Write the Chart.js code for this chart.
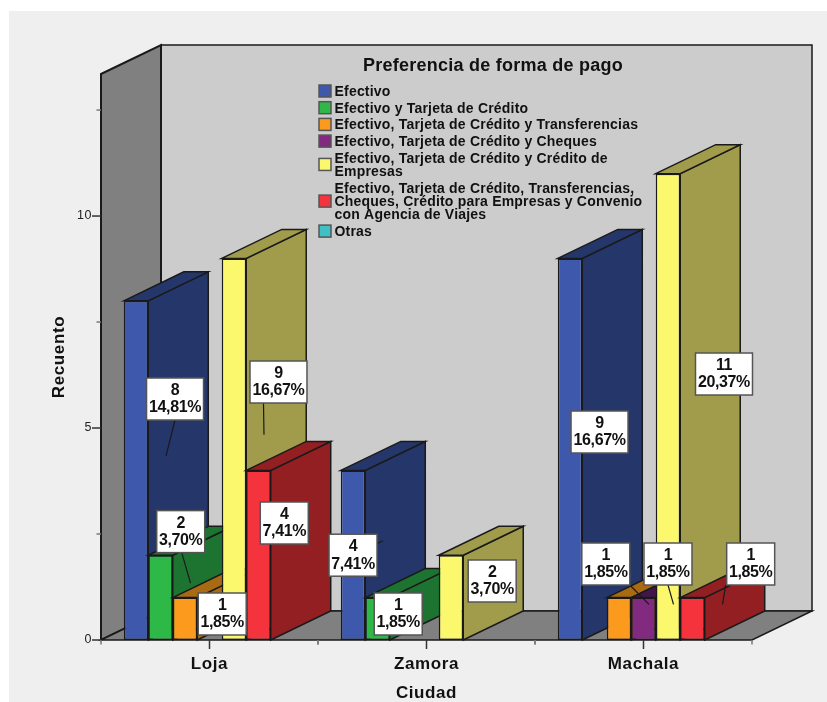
<!DOCTYPE html>
<html lang="es">
<head>
<meta charset="utf-8">
<title>Preferencia de forma de pago</title>
<script src="https://cdn.jsdelivr.net/npm/chart.js@4/dist/chart.umd.min.js"></script>
<style>
  html, body { margin: 0; padding: 0; background: #ffffff; }
  canvas { display: block; }
</style>
</head>
<body>
<canvas id="pagoChart" width="827" height="702"></canvas>
<script>
// Recuento por ciudad
const categories = ["Loja", "Zamora", "Machala"];

const efectivo        = [8, 4, 9];
const efectivoTarjeta = [2, 1, 0];
const transferencias  = [1, 0, 1];
const cheques         = [0, 0, 1];
const creditoEmpresas = [9, 2, 11];
const convenioViajes  = [4, 0, 1];
const otras           = [0, 0, 0];

const seriesValues = [efectivo, efectivoTarjeta, transferencias, cheques, creditoEmpresas, convenioViajes, otras];

const legendTitle = "Preferencia de forma de pago";

const seriesLabels = [
  ["Efectivo"],
  ["Efectivo y Tarjeta de Crédito"],
  ["Efectivo, Tarjeta de Crédito y Transferencias"],
  ["Efectivo, Tarjeta de Crédito y Cheques"],
  ["Efectivo, Tarjeta de Crédito y Crédito de", "Empresas"],
  ["Efectivo, Tarjeta de Crédito, Transferencias,", "Cheques, Crédito para Empresas y Convenio", "con Agencia de Viajes"],
  ["Otras"]
];

const seriesColors = ["#3E58AC", "#2EB848", "#FB9A1C", "#812A80", "#FBF86E", "#F4333C", "#40BFC4"];
const seriesShades = ["#25376A", "#1D7330", "#A86A12", "#43164A", "#A09C4B", "#931F23", "#267376"];

// Etiquetas: desplazamiento de la caja respecto al centro de la barra y
// punto donde sale la linea guia respecto a la caja [dx, dy, lineX, lineY]
const labelSpots = [
  [[39, -71.4, 0, 21], [0, 0, 0, 0], [29.5, -17.2, 0, 0]],
  [[20.2, -66, 1, 21], [20.7, -4.8, 0, 0], null],
  [[37.2, -4.8, 0, 0], null, [-13.2, -54.8, 25, 22]],
  [null, null, [24.5, -54.8, 0, 21]],
  [[44.5, -67.2, -15, 21], [41.2, -16.6, 0, 0], [56, -32.8, 0, 0]],
  [[25.8, -32.2, 0, 0], null, [58.2, -54.8, -25, 21]],
  [null, null, null]
];

const depthX = 60;
const depthY = 29;
const inkColor = "#1a1a1a";
const axisSpacing = "0.6px";

function polygon(ctx, points, fill, stroke, width) {
  ctx.beginPath();
  points.forEach((p, i) => i ? ctx.lineTo(p[0], p[1]) : ctx.moveTo(p[0], p[1]));
  ctx.closePath();
  if (fill) {
    ctx.fillStyle = fill;
    ctx.fill();
  }
  if (stroke) {
    ctx.strokeStyle = stroke;
    ctx.lineWidth = width || 1.5;
    ctx.lineJoin = "miter";
    ctx.stroke();
  }
}

function segment(ctx, x1, y1, x2, y2, color, width) {
  ctx.beginPath();
  ctx.moveTo(x1, y1);
  ctx.lineTo(x2, y2);
  ctx.strokeStyle = color;
  ctx.lineWidth = width;
  ctx.stroke();
}

function percentText(value) {
  const total = seriesValues.flat().reduce((a, b) => a + b, 0);
  return (value / total * 100).toFixed(2).replace(".", ",") + "%";
}

// Paneles de fondo, suelo y marcas de los ejes
const boxWalls = {
  id: "boxWalls",
  beforeDraw(chart) {
    const { ctx, scales } = chart;
    const x = scales.x;
    const y = scales.y;
    const l = x.left;
    const r = x.right;
    const b = y.getPixelForValue(0);
    const t = y.top;

    ctx.save();
    ctx.fillStyle = "#ffffff";
    ctx.fillRect(0, 0, chart.width, chart.height);
    ctx.fillStyle = "#EFEFEF";
    ctx.fillRect(9, 11, chart.width - 9, chart.height - 11);

    polygon(ctx, [[l + depthX, t - depthY], [r + depthX, t - depthY], [r + depthX, b - depthY], [l + depthX, b - depthY]], "#CCCCCC", inkColor, 1.5);
    polygon(ctx, [[l, t], [l + depthX, t - depthY], [l + depthX, b - depthY], [l, b]], "#808080", inkColor, 2);
    polygon(ctx, [[l, b], [l + depthX, b - depthY], [r + depthX, b - depthY], [r, b]], "#808080", inkColor, 1.5);

    y.ticks.forEach(tick => {
      const py = y.getPixelForValue(tick.value);
      const major = tick.value % 5 === 0;
      segment(ctx, l - (major ? 9 : 4.5), py, l, py, major ? "#333333" : "#777777", 1.5);
    });

    const halfStep = (x.getPixelForTick(1) - x.getPixelForTick(0)) / 2;
    x.ticks.forEach((tick, i) => {
      const px = x.getPixelForTick(i);
      segment(ctx, px, b, px, b + 9, "#333333", 1.5);
      segment(ctx, px - halfStep, b, px - halfStep, b + 4.5, "#777777", 1.5);
      segment(ctx, px + halfStep, b, px + halfStep, b + 4.5, "#777777", 1.5);
    });
    ctx.restore();

    // los textos de los ejes van algo espaciados
    ctx.letterSpacing = axisSpacing;
  }
};

// Las barras se pintan de izquierda a derecha: la cara lateral de cada una
// queda tapada por el frente de la siguiente
const barDepth = {
  id: "barDepth",
  beforeDatasetsDraw(chart) {
    const { ctx } = chart;
    chart.getSortedVisibleDatasetMetas().forEach(meta => {
      const shade = seriesShades[meta.index];
      ctx.save();
      meta.data.forEach((bar, i) => {
        if (!seriesValues[meta.index][i]) return;
        const left = bar.x - bar.width / 2;
        const right = bar.x + bar.width / 2;
        const top = bar.y;
        const base = bar.base;
        polygon(ctx, [[right, top], [right + depthX, top - depthY], [right + depthX, base - depthY], [right, base]], shade, inkColor, 1.5);
        polygon(ctx, [[left, top], [left + depthX, top - depthY], [right + depthX, top - depthY], [right, top]], shade, inkColor, 1.5);
      });
      ctx.restore();
      meta.controller.draw();
    });
    return false;
  }
};

// Leyenda dentro del panel del fondo
function drawLegend(ctx) {
  ctx.textBaseline = "middle";
  ctx.fillStyle = "#111111";
  ctx.font = "bold 18px 'Liberation Sans'";
  ctx.letterSpacing = "0.25px";
  ctx.textAlign = "center";
  ctx.fillText(legendTitle, 493, 66);

  ctx.textAlign = "left";
  ctx.font = "bold 14px 'Liberation Sans'";
  ctx.letterSpacing = "0.2px";
  let rowY = 92;
  seriesLabels.forEach((lines, i) => {
    const swatchY = rowY + (lines.length - 1) * 6.65 - 1;
    ctx.fillStyle = seriesColors[i];
    ctx.strokeStyle = "#555555";
    ctx.lineWidth = 1.5;
    ctx.fillRect(319, swatchY - 6, 12, 12);
    ctx.strokeRect(319, swatchY - 6, 12, 12);
    ctx.fillStyle = "#111111";
    lines.forEach((line, j) => ctx.fillText(line, 334.5, rowY + j * 13.3));
    rowY += lines.length * 13.3 + 3.4;
  });
}

// Cajas con recuento y porcentaje, con su linea guia al centro de la barra
function drawValueBoxes(chart) {
  const { ctx } = chart;
  const metas = chart.getSortedVisibleDatasetMetas();
  metas.forEach(meta => {
    meta.data.forEach((bar, i) => {
      const value = seriesValues[meta.index][i];
      const spot = labelSpots[meta.index][i];
      if (!value || !spot) return;
      const midY = (bar.y + bar.base) / 2;
      const cx = bar.x + spot[0];
      const cy = midY + spot[1];
      segment(ctx, cx + spot[2], cy + spot[3], bar.x + depthX / 2, midY - depthY / 2, inkColor, 1.2);
    });
  });
  metas.forEach(meta => {
    meta.data.forEach((bar, i) => {
      const value = seriesValues[meta.index][i];
      const spot = labelSpots[meta.index][i];
      if (!value || !spot) return;
      const midY = (bar.y + bar.base) / 2;
      const cx = bar.x + spot[0];
      const cy = midY + spot[1];
      const pct = percentText(value);
      const w = pct.length > 5 ? 57 : 48;
      ctx.fillStyle = "#ffffff";
      ctx.strokeStyle = "#555555";
      ctx.lineWidth = 1.5;
      ctx.fillRect(cx - w / 2, cy - 21, w, 42);
      ctx.strokeRect(cx - w / 2, cy - 21, w, 42);
      ctx.fillStyle = "#111111";
      ctx.font = "bold 16px 'Liberation Sans'";
      ctx.letterSpacing = "-0.4px";
      ctx.textAlign = "center";
      ctx.textBaseline = "middle";
      ctx.fillText(String(value), cx, cy - 8.5);
      ctx.fillText(pct, cx, cy + 9);
    });
  });
}

const overlays = {
  id: "overlays",
  afterDraw(chart) {
    const { ctx } = chart;
    ctx.save();
    drawValueBoxes(chart);
    drawLegend(ctx);
    ctx.restore();
    ctx.letterSpacing = "0px";
  }
};

new Chart(document.getElementById("pagoChart"), {
  type: "bar",
  data: {
    labels: categories,
    datasets: seriesValues.map((values, i) => ({
      label: seriesLabels[i].join(" "),
      data: values,
      backgroundColor: seriesColors[i],
      borderColor: inkColor,
      borderWidth: 1.5,
      borderSkipped: false,
      barPercentage: 1,
      categoryPercentage: 0.79
    }))
  },
  options: {
    responsive: false,
    animation: false,
    layout: { padding: { left: 0, top: 74, right: 75, bottom: 0 } },
    plugins: {
      legend: { display: false },
      title: { display: false },
      tooltip: { enabled: false }
    },
    scales: {
      x: {
        afterFit(scale) { scale.height = 62; },
        grid: { display: false },
        border: { display: false },
        ticks: {
          color: "#111111",
          padding: 6,
          maxRotation: 0,
          font: { family: "'Liberation Sans'", size: 17, weight: "bold" }
        },
        title: {
          display: true,
          text: "Ciudad",
          color: "#111111",
          padding: 0,
          font: { family: "'Liberation Sans'", size: 17, weight: "bold", lineHeight: 1 }
        }
      },
      y: {
        min: 0,
        max: 13.35,
        afterFit(scale) { scale.width = 101; },
        grid: { display: false },
        border: { display: false },
        ticks: {
          stepSize: 2.5,
          includeBounds: false,
          autoSkip: false,
          color: "#222222",
          padding: 1,
          font: { family: "'Liberation Sans'", size: 12.5 },
          callback: value => value % 5 === 0 ? String(value) : ""
        },
        title: {
          display: true,
          text: "Recuento",
          color: "#111111",
          padding: { top: 49, bottom: 0 },
          font: { family: "'Liberation Sans'", size: 17, weight: "bold" }
        }
      }
    }
  },
  plugins: [boxWalls, barDepth, overlays]
});
</script>
</body>
</html>
